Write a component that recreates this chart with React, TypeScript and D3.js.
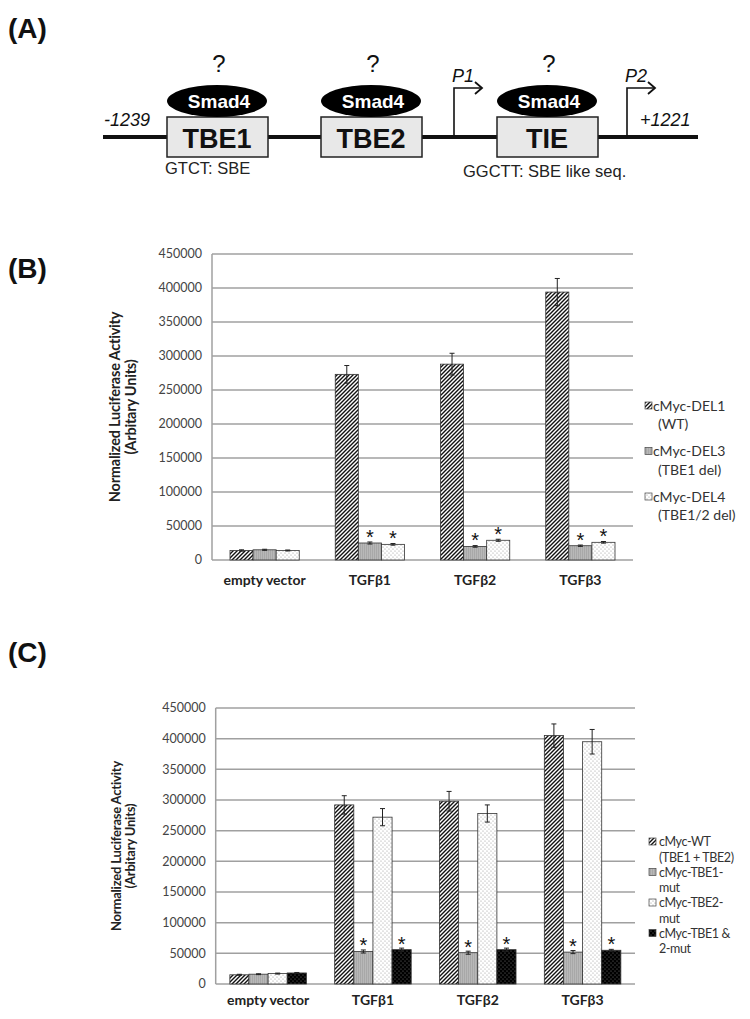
import * as d3 from 'd3';

// ---- Panel B data ----
const groups = ['empty vector', 'TGFβ1', 'TGFβ2', 'TGFβ3'];
const del1 = [14000, 273000, 288000, 394000];
const del1Err = [1000, 13000, 16000, 20000];
const del3 = [15000, 25000, 20000, 21000];
const del3Err = [800, 1500, 1200, 1000];
const del4 = [14000, 23000, 29000, 26000];
const del4Err = [700, 1200, 1500, 1200];
const starB = [
  [false, false, false, false],
  [false, true, true, true],
  [false, true, true, true],
];
const legendB = [
  ['cMyc-DEL1', '(WT)'],
  ['cMyc-DEL3', '(TBE1 del)'],
  ['cMyc-DEL4', '(TBE1/2 del)'],
];

// ---- Panel C data ----
const wt = [15000, 292000, 298000, 405000];
const wtErr = [800, 15000, 16000, 19000];
const tbe1 = [16000, 53000, 51000, 52000];
const tbe1Err = [700, 2500, 2500, 2500];
const tbe2 = [17000, 272000, 278000, 395000];
const tbe2Err = [800, 14000, 14000, 20000];
const dbl = [18000, 56000, 56000, 55000];
const dblErr = [800, 2500, 2500, 1500];
const starC = [
  [false, false, false, false],
  [false, true, true, true],
  [false, false, false, false],
  [false, true, true, true],
];
const legendC = [
  ['cMyc-WT', '(TBE1 + TBE2)'],
  ['cMyc-TBE1-', 'mut'],
  ['cMyc-TBE2-', 'mut'],
  ['cMyc-TBE1 &', '2-mut'],
];

const yTicks = [0, 50000, 100000, 150000, 200000, 250000, 300000, 350000, 400000, 450000];

const FONT = 'Lato, "Open Sans", sans-serif';
const NARROW = '"Liberation Sans Narrow", "Arial Narrow", "Liberation Sans", Arial, sans-serif';
const ARIAL = '"Liberation Sans", Arial, sans-serif';
const GRID = '#a0a0a0';

const BarPanel = ({ values, errs, stars, fills, legend, x0, x1, yTop, yBottom, padIn, titleSize, titleX, legendX, legendY, legendStep, legendLine, legendSize, legendText, legendIndent, legendSpacing, xLabelY }) => {
  const y = d3.scaleLinear().domain([0, 450000]).range([yBottom, yTop]);
  const xg = d3.scaleBand().domain(groups).range([x0, x1]).paddingInner(padIn).paddingOuter(padIn / 2);
  const xs = d3.scaleBand().domain(d3.range(values.length).map(String)).range([0, xg.bandwidth()]);
  const midY = (yTop + yBottom) / 2;
  return (
    <g>
      {yTicks.map((t) => (
        <g key={t}>
          <line x1={x0} x2={x1} y1={y(t)} y2={y(t)} stroke={GRID} strokeWidth={1.5} />
          <text x={x0 - 10} y={y(t)} dy="0.35em" textAnchor="end" fontFamily={FONT} fontSize={12.5} fill="#444">{t}</text>
        </g>
      ))}
      <line x1={x0} x2={x0} y1={yTop} y2={yBottom} stroke={GRID} strokeWidth={1.5} />
      {values.map((vals, si) =>
        vals.map((v, gi) => {
          const bx = xg(groups[gi]) + xs(String(si));
          const bw = xs.bandwidth();
          const cx = bx + bw / 2;
          const e = errs[si][gi];
          return (
            <g key={si + '-' + gi}>
              <rect x={bx} y={y(v)} width={bw} height={y(0) - y(v)} fill={fills[si]} stroke="#333" strokeWidth={0.8} />
              <line x1={cx} x2={cx} y1={y(v + e)} y2={y(v - e)} stroke="#222" strokeWidth={1} />
              <line x1={cx - 2.5} x2={cx + 2.5} y1={y(v + e)} y2={y(v + e)} stroke="#222" strokeWidth={1} />
              <line x1={cx - 2.5} x2={cx + 2.5} y1={y(v - e)} y2={y(v - e)} stroke="#222" strokeWidth={1} />
              {stars[si][gi] && (
                <text x={cx} y={y(v) + 1} textAnchor="middle" fontFamily={ARIAL} fontSize={20} fill="#111">*</text>
              )}
            </g>
          );
        })
      )}
      {groups.map((g) => (
        <text key={g} x={xg(g) + xg.bandwidth() / 2} y={xLabelY} textAnchor="middle" fontFamily={FONT} fontWeight="bold" fontSize={14} fill="#222">{g}</text>
      ))}
      <text transform={`translate(${titleX},${midY}) rotate(-90)`} textAnchor="middle" fontFamily={FONT} fontWeight="bold" fontSize={titleSize} fill="#222" letterSpacing={-0.2}>
        <tspan x={0} dy="0">Normalized Luciferase Activity</tspan>
        <tspan x={0} dy="1.1em">(Arbitary Units)</tspan>
      </text>
      {legend.map((l, i) => {
        const ly = legendY + i * legendStep;
        return (
          <g key={i} fontFamily={FONT} fontSize={legendSize} fill="#333" letterSpacing={legendSpacing}>
            <rect x={legendX} y={ly - 4} width={7} height={7} fill={fills[i]} stroke="#444" strokeWidth={0.7} />
            <text x={legendX + legendText} y={ly} dy="0.35em">{l[0]}</text>
            <text x={legendX + legendText + legendIndent} y={ly + legendLine} dy="0.35em">{l[1]}</text>
          </g>
        );
      })}
    </g>
  );
};

const Diagram = () => {
  const boxes = [
    { label: 'TBE1', x: 167 },
    { label: 'TBE2', x: 321 },
    { label: 'TIE', x: 497 },
  ];
  const promoters = [
    { label: 'P1', x: 454 },
    { label: 'P2', x: 627 },
  ];
  const lineY = 137;
  return (
    <g>
      <line x1={103} x2={698} y1={lineY} y2={lineY} stroke="#111" strokeWidth={4} />
      <text x={104} y={126} fontFamily={ARIAL} fontStyle="italic" fontSize={18} fill="#111">-1239</text>
      <text x={640} y={126} fontFamily={ARIAL} fontStyle="italic" fontSize={18} fill="#111">+1221</text>
      {promoters.map((p) => (
        <g key={p.label}>
          <path d={`M${p.x},${lineY} V88 H${p.x + 27}`} fill="none" stroke="#111" strokeWidth={1.6} />
          <path d={`M${p.x + 21},82 L${p.x + 28},88 L${p.x + 21},94`} fill="none" stroke="#111" strokeWidth={1.8} />
          <text x={p.x - 2} y={82} fontFamily={ARIAL} fontStyle="italic" fontSize={18} fill="#111">{p.label}</text>
        </g>
      ))}
      {boxes.map((b) => (
        <g key={b.label}>
          <rect x={b.x} y={117} width={101} height={40} fill="#e8e8e8" stroke="#222" strokeWidth={1.5} />
          <text x={b.x + 50} y={148} textAnchor="middle" fontFamily={NARROW} fontWeight="bold" fontSize={27} fill="#111">{b.label}</text>
          <ellipse cx={b.x + 50} cy={101} rx={50} ry={16} fill="#000" />
          <text x={b.x + 52} y={108} textAnchor="middle" fontFamily={NARROW} fontWeight="bold" fontSize={19} fill="#fff">Smad4</text>
          <text x={b.x + 52} y={72} textAnchor="middle" fontFamily={ARIAL} fontSize={24} fill="#111">?</text>
        </g>
      ))}
      <text x={165} y={174} fontFamily={ARIAL} fontSize={16.5} fill="#222">GTCT: SBE</text>
      <text x={463} y={177} fontFamily={ARIAL} fontSize={16.5} fill="#222">GGCTT: SBE like seq.</text>
    </g>
  );
};

export default function App() {
  const fillsB = ['url(#hatch)', 'url(#grey)', 'url(#dots)'];
  const fillsC = ['url(#hatch)', 'url(#grey)', 'url(#dots)', 'url(#blackdots)'];
  return (
    <svg width={750} height={1019} style={{ position: 'absolute', left: 0, top: 0, background: '#fff' }}>
      <defs>
        <pattern id="hatch" patternUnits="userSpaceOnUse" width={4} height={4}>
          <rect width={4} height={4} fill="#fff" />
          <path d="M-1,1 l2,-2 M0,4 l4,-4 M3,5 l2,-2" stroke="#111" strokeWidth={1.4} />
        </pattern>
        <pattern id="grey" patternUnits="userSpaceOnUse" width={2} height={2}>
          <rect width={2} height={2} fill="#b8b8b8" />
          <rect width={1} height={2} fill="#a8a8a8" />
        </pattern>
        <pattern id="dots" patternUnits="userSpaceOnUse" width={4} height={4}>
          <rect width={4} height={4} fill="#fff" />
          <circle cx={1} cy={1} r={0.6} fill="#999" />
          <circle cx={3} cy={3} r={0.6} fill="#999" />
        </pattern>
        <pattern id="blackdots" patternUnits="userSpaceOnUse" width={4} height={4}>
          <rect width={4} height={4} fill="#000" />
          <circle cx={1} cy={1} r={0.6} fill="#777" />
          <circle cx={3} cy={3} r={0.6} fill="#777" />
        </pattern>
      </defs>
      <text x={8} y={38} fontFamily={ARIAL} fontWeight="bold" fontSize={28} fill="#111">(A)</text>
      <Diagram />
      <text x={8} y={278} fontFamily={ARIAL} fontWeight="bold" fontSize={28} fill="#111">(B)</text>
      <BarPanel
        values={[del1, del3, del4]}
        errs={[del1Err, del3Err, del4Err]}
        stars={starB}
        fills={fillsB}
        legend={legendB}
        x0={212}
        x1={633}
        yTop={254}
        yBottom={560}
        padIn={0.342}
        titleSize={14.5}
        titleX={120}
        legendX={645}
        legendY={406}
        legendStep={45.5}
        legendLine={18.5}
        legendSize={14}
        legendText={8}
        legendIndent={5}
        legendSpacing={0}
        xLabelY={585}
      />
      <text x={8} y={662} fontFamily={ARIAL} fontWeight="bold" fontSize={28} fill="#111">(C)</text>
      <BarPanel
        values={[wt, tbe1, tbe2, dbl]}
        errs={[wtErr, tbe1Err, tbe2Err, dblErr]}
        stars={starC}
        fills={fillsC}
        legend={legendC}
        x0={215.7}
        x1={635}
        yTop={708}
        yBottom={984}
        padIn={0.27}
        titleSize={13}
        titleX={121}
        legendX={649}
        legendY={842}
        legendStep={30.5}
        legendLine={15.5}
        legendSize={12.5}
        legendText={10}
        legendIndent={0}
        legendSpacing={-0.4}
        xLabelY={1005}
      />
    </svg>
  );
}
